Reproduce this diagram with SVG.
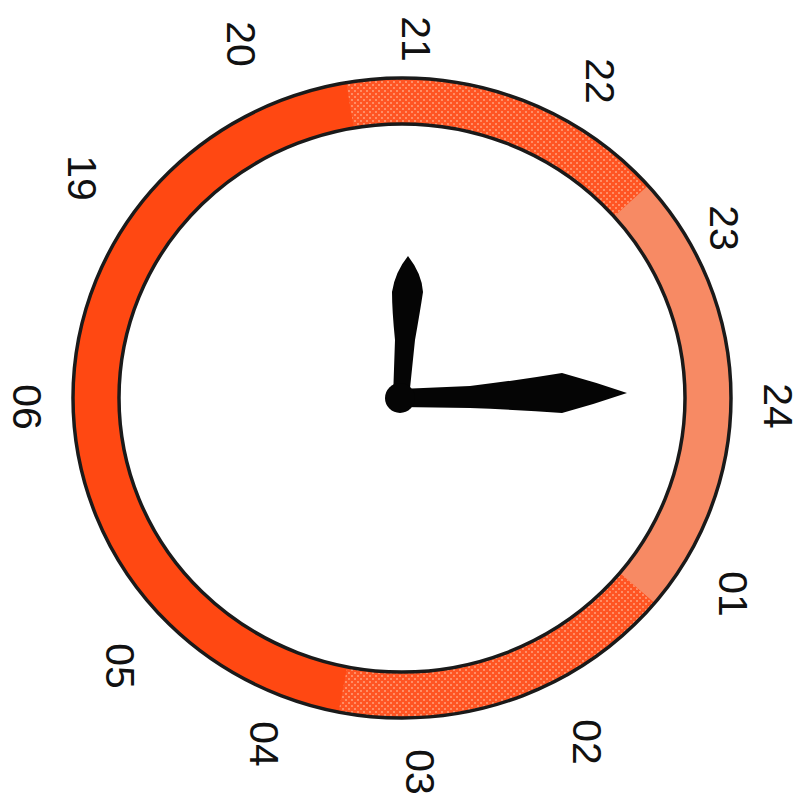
<svg xmlns="http://www.w3.org/2000/svg" width="803" height="800" viewBox="0 0 803 800">
  <style>
    .lbl { font-family: "Liberation Sans", Arial, sans-serif; font-size: 41px; fill: #111; text-anchor: middle; }
    .edge { fill: none; stroke: #1a1a1a; stroke-width: 3.5; }
    .hand { fill: #050505; }
  </style>
  <defs>
    <pattern id="tex" patternUnits="userSpaceOnUse" width="6" height="6">
      <rect width="6" height="6" fill="#ff5523"/>
      <rect x="0" y="0" width="2" height="2" fill="#ff8e66"/>
      <rect x="3" y="3" width="2" height="2" fill="#ff8e66"/>
    </pattern>
  </defs>
  <rect width="803" height="800" fill="#ffffff"/>

  <g id="ring">
    <ellipse cx="402" cy="398" rx="306" ry="297" fill="none" stroke="#ff4812" stroke-width="46"/>
    <path d="M 350 105 A 306 297 0 0 1 631 201" fill="none" stroke="url(#tex)" stroke-width="46"/>
    <path d="M 631 201 A 306 297 0 0 1 637 588" fill="none" stroke="#f78a64" stroke-width="46"/>
    <path d="M 637 588 A 306 297 0 0 1 343 689" fill="none" stroke="url(#tex)" stroke-width="46"/>
    <ellipse class="edge" cx="402" cy="398" rx="329" ry="320"/>
    <ellipse class="edge" cx="402" cy="398" rx="283" ry="274"/>
  </g>

  <g id="hands">
    <path id="hour-hand" class="hand" d="M 393 398 L 395 340 Q 392 310 392 292 Q 395 272 408 256 Q 422 274 423 292 Q 420 312 415 340 L 409 398 Z"/>
    <path id="minute-hand" class="hand" d="M 400 389 L 470 386 Q 520 380 562 373 Q 595 382 627 393 Q 595 404 562 413 Q 520 410 470 408 L 400 407 Z"/>
    <circle id="pivot" class="hand" cx="400" cy="398" r="15"/>
  </g>

  <g id="labels">
    <text id="l24" class="lbl" transform="translate(779,406) rotate(90)" dy="15">24</text>
    <text id="l01" class="lbl" transform="translate(734,594) rotate(90)" dy="15">01</text>
    <text id="l02" class="lbl" transform="translate(588,742) rotate(90)" dy="15">02</text>
    <text id="l03" class="lbl" transform="translate(421,772) rotate(90)" dy="15">03</text>
    <text id="l04" class="lbl" transform="translate(265,744) rotate(90)" dy="15">04</text>
    <text id="l05" class="lbl" transform="translate(121,666) rotate(90)" dy="15">05</text>
    <text id="l06" class="lbl" transform="translate(28,407) rotate(90)" dy="15">06</text>
    <text id="l19" class="lbl" transform="translate(83,178) rotate(90)" dy="15">19</text>
    <text id="l20" class="lbl" transform="translate(242,44) rotate(90)" dy="15">20</text>
    <text id="l21" class="lbl" transform="translate(417,39) rotate(90)" dy="15">21</text>
    <text id="l22" class="lbl" transform="translate(601,81) rotate(90)" dy="15">22</text>
    <text id="l23" class="lbl" transform="translate(725,228) rotate(90)" dy="15">23</text>
  </g>
</svg>
